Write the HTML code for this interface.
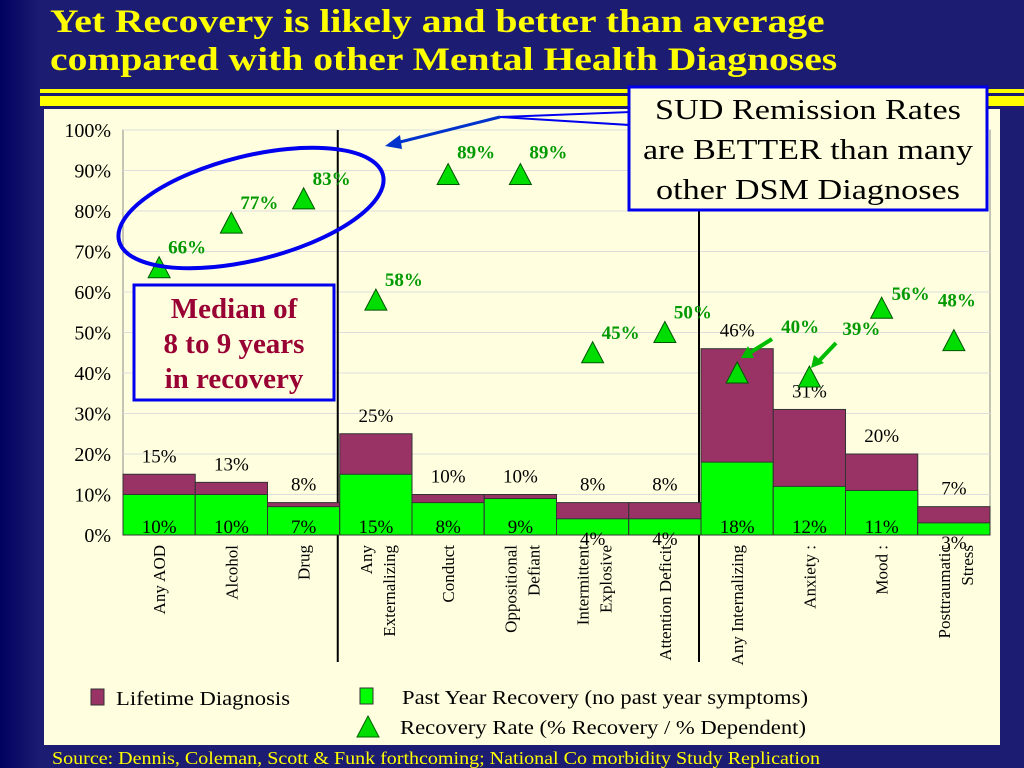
<!DOCTYPE html>
<html><head><meta charset="utf-8">
<style>
body{margin:0;width:1024px;height:768px;overflow:hidden;background:linear-gradient(90deg,#000060 0,#1c1c72 40px,#1c1c72 100%);font-family:"Liberation Serif",serif;}
#title{position:absolute;left:50px;top:3px;color:#ffff00;font-weight:bold;font-size:33px;line-height:38px;transform:scaleX(1.2);transform-origin:0 0;white-space:nowrap;}
</style></head><body>
<div id="title">Yet Recovery is likely and better than average<br>compared with other Mental Health Diagnoses</div>
<svg width="1024" height="768" style="position:absolute;left:0;top:0">
<rect x="40" y="89" width="984" height="4" fill="#ffff00"/>
<rect x="40" y="96" width="984" height="10" fill="#ffff00"/>
<rect x="44" y="109" width="956" height="636" fill="#ffffe0"/>
<g id="plot"></g>
<ellipse cx="251" cy="208" rx="136" ry="52" transform="rotate(-14 251 208)" fill="none" stroke="#0000ee" stroke-width="4"/>
<line x1="500" y1="117" x2="392" y2="144" stroke="#0033cc" stroke-width="3"/>
<polygon points="385,146 400,135 402,149" fill="#0033cc"/>
<polygon points="500,117 630,112 630,125" fill="#ffffe0" stroke="#0000ee" stroke-width="2"/>
<rect x="629" y="87" width="358" height="123" fill="#ffffe0" stroke="#0000ee" stroke-width="3"/>
<g font-size="29" text-anchor="middle">
<text x="808" y="119" textLength="306" lengthAdjust="spacingAndGlyphs">SUD Remission Rates</text>
<text x="808" y="159" textLength="330" lengthAdjust="spacingAndGlyphs">are BETTER than many</text>
<text x="808" y="199" textLength="304" lengthAdjust="spacingAndGlyphs">other DSM Diagnoses</text>
</g>
<rect x="134" y="285" width="200" height="115" fill="#ffffe0" stroke="#0000ee" stroke-width="3"/>
<text x="234" y="318" text-anchor="middle" font-size="29" font-weight="bold" fill="#990033">Median of</text>
<text x="234" y="353" text-anchor="middle" font-size="29" font-weight="bold" fill="#990033">8 to 9 years</text>
<text x="234" y="388" text-anchor="middle" font-size="29" font-weight="bold" fill="#990033">in recovery</text>
<line x1="772" y1="339" x2="748" y2="354" stroke="#00bb00" stroke-width="4"/>
<polygon points="741,358 748,346 754,358" fill="#00bb00"/>
<line x1="836" y1="343" x2="817" y2="363" stroke="#00bb00" stroke-width="4"/>
<polygon points="811,368 814,355 824,363" fill="#00bb00"/>
<rect x="91" y="689" width="13" height="16" fill="#993366" stroke="#333"/>
<text x="116" y="705" font-size="20" textLength="174" lengthAdjust="spacingAndGlyphs">Lifetime Diagnosis</text>
<rect x="360" y="688" width="13" height="16" fill="#00ff00" stroke="#333"/>
<text x="402" y="704" font-size="20" textLength="406" lengthAdjust="spacingAndGlyphs">Past Year Recovery (no past year symptoms)</text>
<polygon points="368,716 357,737 379,737" fill="#00dd00" stroke="#006600"/>
<text x="400" y="734" font-size="20" textLength="406" lengthAdjust="spacingAndGlyphs">Recovery Rate (% Recovery / % Dependent)</text>
<text x="52" y="764" font-size="18" fill="#ffff00" textLength="768" lengthAdjust="spacingAndGlyphs">Source: Dennis, Coleman, Scott &amp; Funk forthcoming;  National Co morbidity Study Replication</text>
</svg>
<script>
const categories=[["Any AOD"],["Alcohol"],["Drug"],["Any","Externalizing"],["Conduct"],["Oppositional","Defiant"],["Intermittent","Explosive"],["Attention Deficit"],["Any Internalizing"],["Anxiety :"],["Mood :"],["Posttraumatic","Stress"]];
const lifetime=[15,13,8,25,10,10,8,8,46,31,20,7];
const recovery=[10,10,7,15,8,9,4,4,18,12,11,3];
const rate=[66,77,83,58,89,89,45,50,40,39,56,48];
const ticks=[0,10,20,30,40,50,60,70,80,90,100];
const rateLabelShift=[[0,0],[0,0],[0,0],[0,0],[0,-2],[0,-2],[0,0],[0,0],[35,-26],[24,-28],[1,6],[-25,-20]];
const NS="http://www.w3.org/2000/svg";
const g=document.getElementById('plot');
const X0=123,X1=990,Y0=535,Y1=130;
const bw=(X1-X0)/categories.length;
const y=v=>Y0-(v/100)*(Y0-Y1);
const x=i=>X0+i*bw;
function mk(t,a,p){const e=document.createElementNS(NS,t);for(const k in a)e.setAttribute(k,a[k]);(p||g).appendChild(e);return e;}
const fr=mk('rect',{x:X0,y:Y1,width:X1-X0,height:Y0-Y1,fill:'none',stroke:'#888'});


ticks.forEach(t=>{
 const l=mk('line',{x1:X0,x2:X1,y1:y(t),y2:y(t),stroke:'#ddd'});
 
 
 const tx=mk('text',{x:X0-12,y:y(t)+7,'text-anchor':'end','font-size':20});
 tx.textContent=t+'%';
 
 
});
[3,8].forEach(i=>{const l=mk('line',{x1:x(i)-2,x2:x(i)-2,y1:Y1,y2:662,stroke:'#000','stroke-width':2});
 
 });
categories.forEach((c,i)=>{
 const r1=mk('rect',{x:x(i),y:y(lifetime[i]),width:bw,height:Y0-y(lifetime[i]),fill:'#993366',stroke:'#333'});
 
 
 const r2=mk('rect',{x:x(i),y:y(recovery[i]),width:bw,height:Y0-y(recovery[i]),fill:'#00ff00',stroke:'#333'});
 
 
 const cx=x(i)+bw/2;
 const tl=mk('text',{x:cx,y:y(lifetime[i])-12,'text-anchor':'middle','font-size':19});
 tl.textContent=lifetime[i]+'%';
 
 
 const tr=mk('text',{x:cx,y:Math.max(y(recovery[i])+26,Y0-2),'text-anchor':'middle','font-size':19});
 tr.textContent=recovery[i]+'%';
 
 
 const ty=y(rate[i]);
 const tri=mk('polygon',{points:`${cx},${ty-11} ${cx-11},${ty+10} ${cx+11},${ty+10}`,fill:'#00dd00',stroke:'#005500'});
 
 
 const rl=mk('text',{x:cx+28+rateLabelShift[i][0],y:ty-14+rateLabelShift[i][1],'text-anchor':'middle','font-size':19,'font-weight':'bold',fill:'#009900'});
 rl.textContent=rate[i]+'%';
 
 
 const lt=mk('text',{transform:`translate(${cx},545) rotate(-90)`,'text-anchor':'end','font-size':17});
 c.forEach((s,k)=>{const ts=mk('tspan',{x:0,dy:k==0?(c.length>1?-4:6):23},lt);ts.textContent=s;});
 
 
});
</script>
</body></html>
